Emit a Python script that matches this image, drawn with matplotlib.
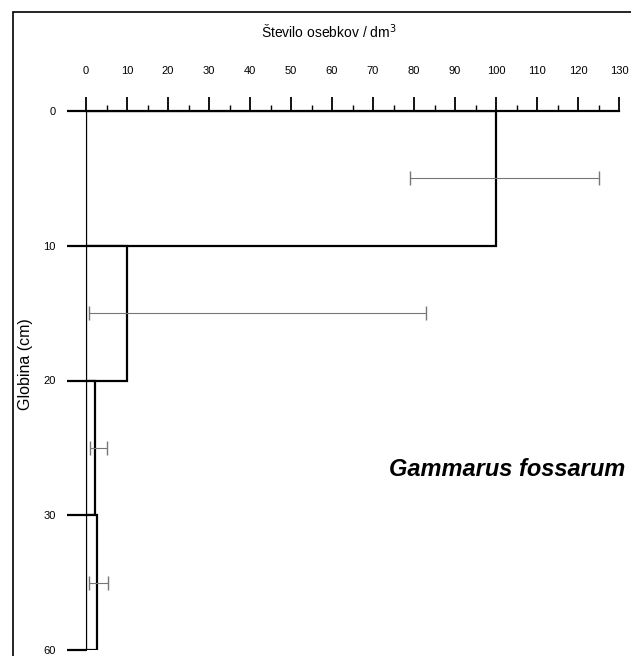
import numpy as np
import matplotlib.pyplot as plt
from matplotlib.patches import Rectangle

plt.rcParams['font.family'] = ['Liberation Sans', 'DejaVu Sans']

# depth layers (cm) and number of individuals per dm3
depth_labels = ["0", "10", "20", "30", "60"]
counts = [100, 10, 2.3, 2.6]
err_low = [21, 9.3, 1.3, 1.9]
err_high = [25, 73, 2.7, 2.7]

fig = plt.figure(figsize=(6.31, 6.56), dpi=100)
ax = fig.add_axes([86 / 631, 6 / 656, 533 / 631, 539 / 656])

ypos = np.arange(len(counts)) + 0.5
ax.barh(ypos, counts, height=1.0, color='white', edgecolor='black', linewidth=1.6, zorder=2)
ax.errorbar(counts, ypos, xerr=[err_low, err_high], fmt='none', ecolor='#777777',
            elinewidth=0.8, capsize=5, capthick=1.0, zorder=3)

ax.set_xlim(0, 130)
ax.set_ylim(len(counts), 0)
ax.xaxis.tick_top()
ax.xaxis.set_label_position('top')
ax.set_xticks(np.arange(0, 131, 10))
ax.set_xticks(np.arange(5, 131, 10), minor=True)
ax.set_yticks(np.arange(len(depth_labels)))
ax.set_yticklabels(depth_labels)

ax.tick_params(axis='x', which='major', direction='out', length=10, width=1.3,
               labelsize=8, pad=15)
ax.tick_params(axis='x', which='minor', direction='out', length=4, width=1.0)
ax.tick_params(axis='y', direction='out', length=14, width=1.6, labelsize=8, pad=8)

for side in ['right', 'bottom']:
    ax.spines[side].set_visible(False)
ax.spines['top'].set_linewidth(1.6)
ax.spines['left'].set_linewidth(0.8)

ax.set_xlabel('Število osebkov / dm$^3$', fontsize=10)
ax.xaxis.set_label_coords(0.455, 1.135)
ax.set_ylabel('Globina (cm)', fontsize=11.5)
ax.yaxis.set_label_coords(-0.1, 0.53)

ax.text(1.012, 0.335, 'Gammarus fossarum', transform=ax.transAxes, fontsize=17,
        fontweight='bold', style='italic', ha='right', va='center')

# outer frame of the figure panel
fig.patches.append(Rectangle((13 / 631, -0.1), 1.1, 1.1 - 12 / 656,
                             transform=fig.transFigure, fill=False,
                             edgecolor='black', linewidth=1.2))

fig.savefig('out.png', dpi=100)
